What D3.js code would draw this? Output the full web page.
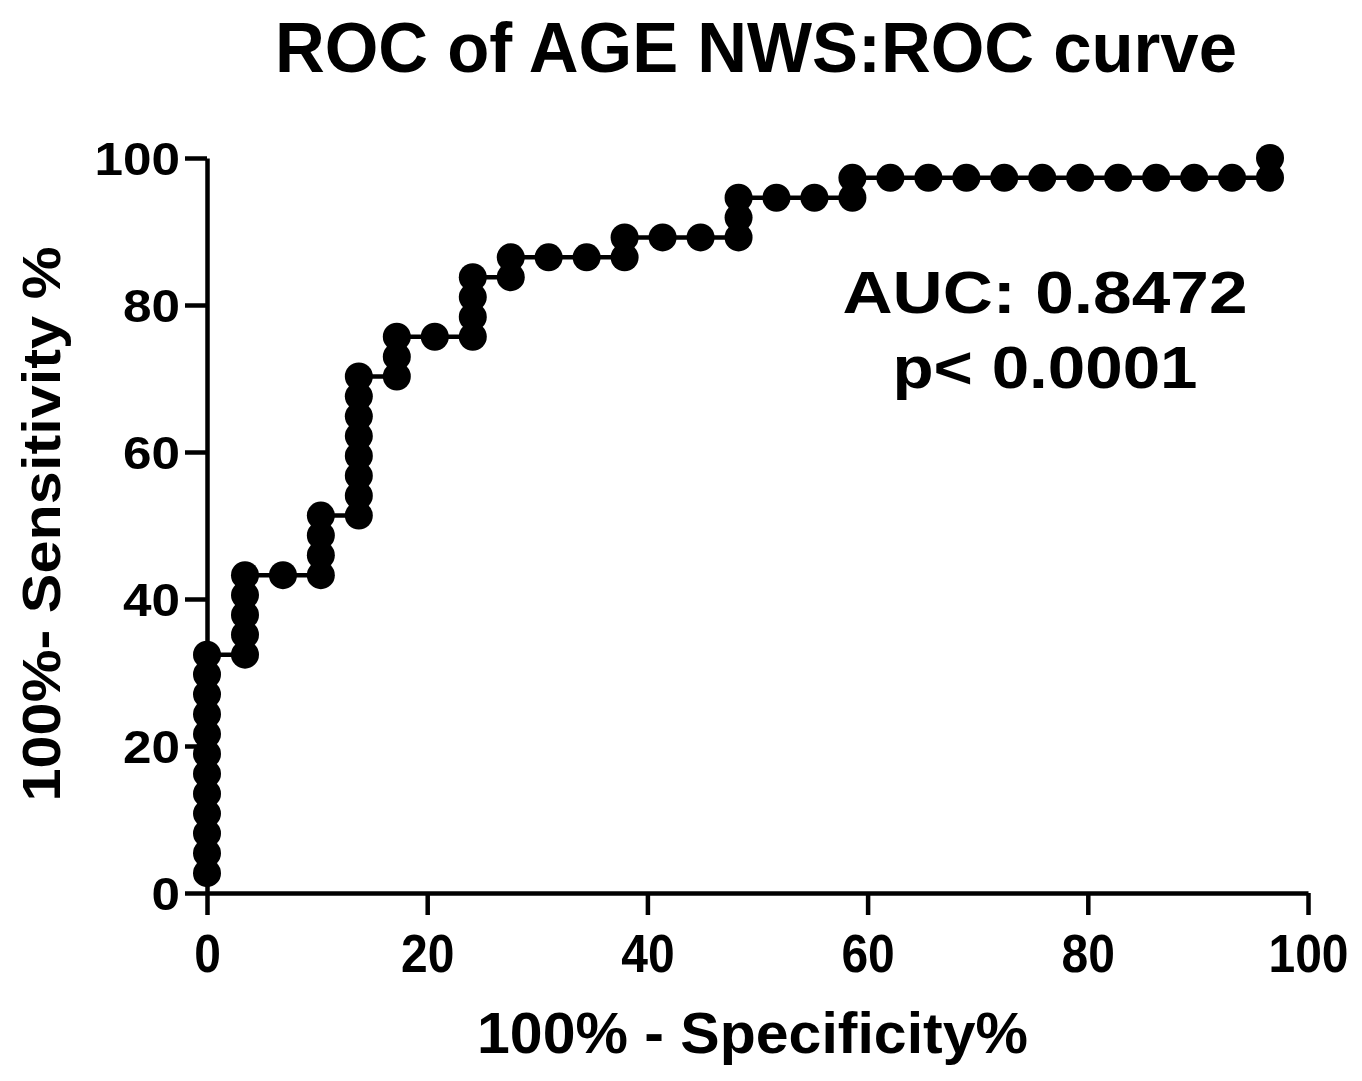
<!DOCTYPE html>
<html>
<head>
<meta charset="utf-8">
<script src="https://cdn.jsdelivr.net/npm/d3@7"></script>
<style>
  html, body { margin: 0; padding: 0; background: #fff; }
  svg { display: block; }
  text { font-family: "Liberation Sans", Arial, sans-serif; font-weight: bold; fill: #000; }
</style>
</head>
<body>
<svg id="chart" width="1362" height="1081"></svg>
<script>
// ---- Data ----
const titleText = "ROC of AGE NWS:ROC curve";
const xAxisTitle = "100%  - Specificity%";
const yAxisTitle = "100%- Sensitivity %";
const aucText = "AUC: 0.8472";
const pText = "p< 0.0001";
const xTicks = [0, 20, 40, 60, 80, 100];
const yTicks = [0, 20, 40, 60, 80, 100];

// 100% - Specificity% for each ROC point
const fprPct = [
  0, 0, 0, 0, 0, 0, 0, 0, 0, 0, 0, 0,
  3.45, 3.45, 3.45, 3.45, 3.45,
  6.90,
  10.34, 10.34, 10.34, 10.34,
  13.79, 13.79, 13.79, 13.79, 13.79, 13.79, 13.79, 13.79,
  17.24, 17.24, 17.24,
  20.69,
  24.14, 24.14, 24.14, 24.14,
  27.59, 27.59,
  31.03,
  34.48,
  37.93, 37.93,
  41.38,
  44.83,
  48.28, 48.28, 48.28,
  51.72,
  55.17,
  58.62, 58.62,
  62.07, 65.52, 68.97, 72.41, 75.86, 79.31, 82.76, 86.21, 89.66, 93.10,
  96.55, 96.55
];
// Sensitivity% for each ROC point
const sensPct = [
  2.70, 5.41, 8.11, 10.81, 13.51, 16.22, 18.92, 21.62, 24.32, 27.03, 29.73, 32.43,
  32.43, 35.14, 37.84, 40.54, 43.24,
  43.24,
  43.24, 45.95, 48.65, 51.35,
  51.35, 54.05, 56.76, 59.46, 62.16, 64.86, 67.57, 70.27,
  70.27, 72.97, 75.68,
  75.68,
  75.68, 78.38, 81.08, 83.78,
  83.78, 86.49,
  86.49,
  86.49,
  86.49, 89.19,
  89.19,
  89.19,
  89.19, 91.89, 94.59,
  94.59,
  94.59,
  94.59, 97.30,
  97.30, 97.30, 97.30, 97.30, 97.30, 97.30, 97.30, 97.30, 97.30, 97.30,
  97.30, 100
];

// ---- Drawing ----
const svg = d3.select("#chart");
const x = d3.scaleLinear().domain([0, 100]).range([207, 1308]);
const y = d3.scaleLinear().domain([0, 100]).range([893, 158]);
const points = fprPct.map((v, i) => ({ x: v, y: sensPct[i] }));

const AXW = 4.5, TICK = 22;

// Title
svg.append("text")
  .attr("x", 275).attr("y", 72)
  .attr("font-size", 70)
  .attr("textLength", 962).attr("lengthAdjust", "spacingAndGlyphs")
  .text(titleText);

// Y axis
const gy = svg.append("g").attr("transform", `translate(${x(0)},0)`)
  .call(d3.axisLeft(y).tickValues(yTicks).tickSize(TICK).tickSizeOuter(0).tickPadding(5));
gy.select(".domain").attr("stroke", "#000").attr("stroke-width", AXW);
gy.selectAll(".tick line").attr("stroke", "#000").attr("stroke-width", AXW);
gy.selectAll(".tick text")
  .attr("font-size", 46)
  .attr("font-family", null)
  .attr("dy", "0.36em")
  .attr("x", -(TICK + 5))
  .each(function(d) {
    const s = String(d);
    d3.select(this).attr("textLength", s.length * 28.5).attr("lengthAdjust", "spacingAndGlyphs");
  });

// X axis
const gx = svg.append("g").attr("transform", `translate(0,${y(0)})`)
  .call(d3.axisBottom(x).tickValues(xTicks).tickSize(TICK).tickSizeOuter(0).tickPadding(5));
gx.select(".domain").attr("stroke", "#000").attr("stroke-width", AXW);
gx.selectAll(".tick line").attr("stroke", "#000").attr("stroke-width", AXW);
gx.selectAll(".tick text")
  .attr("font-size", 54)
  .attr("font-family", null)
  .attr("y", 79).attr("dy", 0)
  .each(function(d) {
    const s = String(d);
    d3.select(this).attr("textLength", s.length * 26.7).attr("lengthAdjust", "spacingAndGlyphs");
  });

// Axis titles
svg.append("text")
  .attr("x", 477).attr("y", 1053)
  .attr("font-size", 57)
  .attr("textLength", 551).attr("lengthAdjust", "spacingAndGlyphs")
  .text(xAxisTitle);

svg.append("text")
  .attr("transform", "translate(60,524) rotate(-90)")
  .attr("text-anchor", "middle")
  .attr("font-size", 53)
  .attr("textLength", 555).attr("lengthAdjust", "spacingAndGlyphs")
  .text(yAxisTitle);

// ROC curve line
const line = d3.line().x(d => x(d.x)).y(d => y(d.y));
svg.append("path")
  .datum(points)
  .attr("fill", "none")
  .attr("stroke", "#000")
  .attr("stroke-width", 4.5)
  .attr("d", line);

// Points
svg.append("g").selectAll("circle")
  .data(points)
  .join("circle")
  .attr("cx", d => x(d.x))
  .attr("cy", d => y(d.y))
  .attr("r", 14)
  .attr("fill", "#000");

// Annotation
svg.append("text")
  .attr("x", 1045).attr("y", 313)
  .attr("text-anchor", "middle")
  .attr("font-size", 60)
  .attr("textLength", 405).attr("lengthAdjust", "spacingAndGlyphs")
  .text(aucText);
svg.append("text")
  .attr("x", 1045).attr("y", 388)
  .attr("text-anchor", "middle")
  .attr("font-size", 60)
  .attr("textLength", 305).attr("lengthAdjust", "spacingAndGlyphs")
  .text(pText);
</script>
</body>
</html>
